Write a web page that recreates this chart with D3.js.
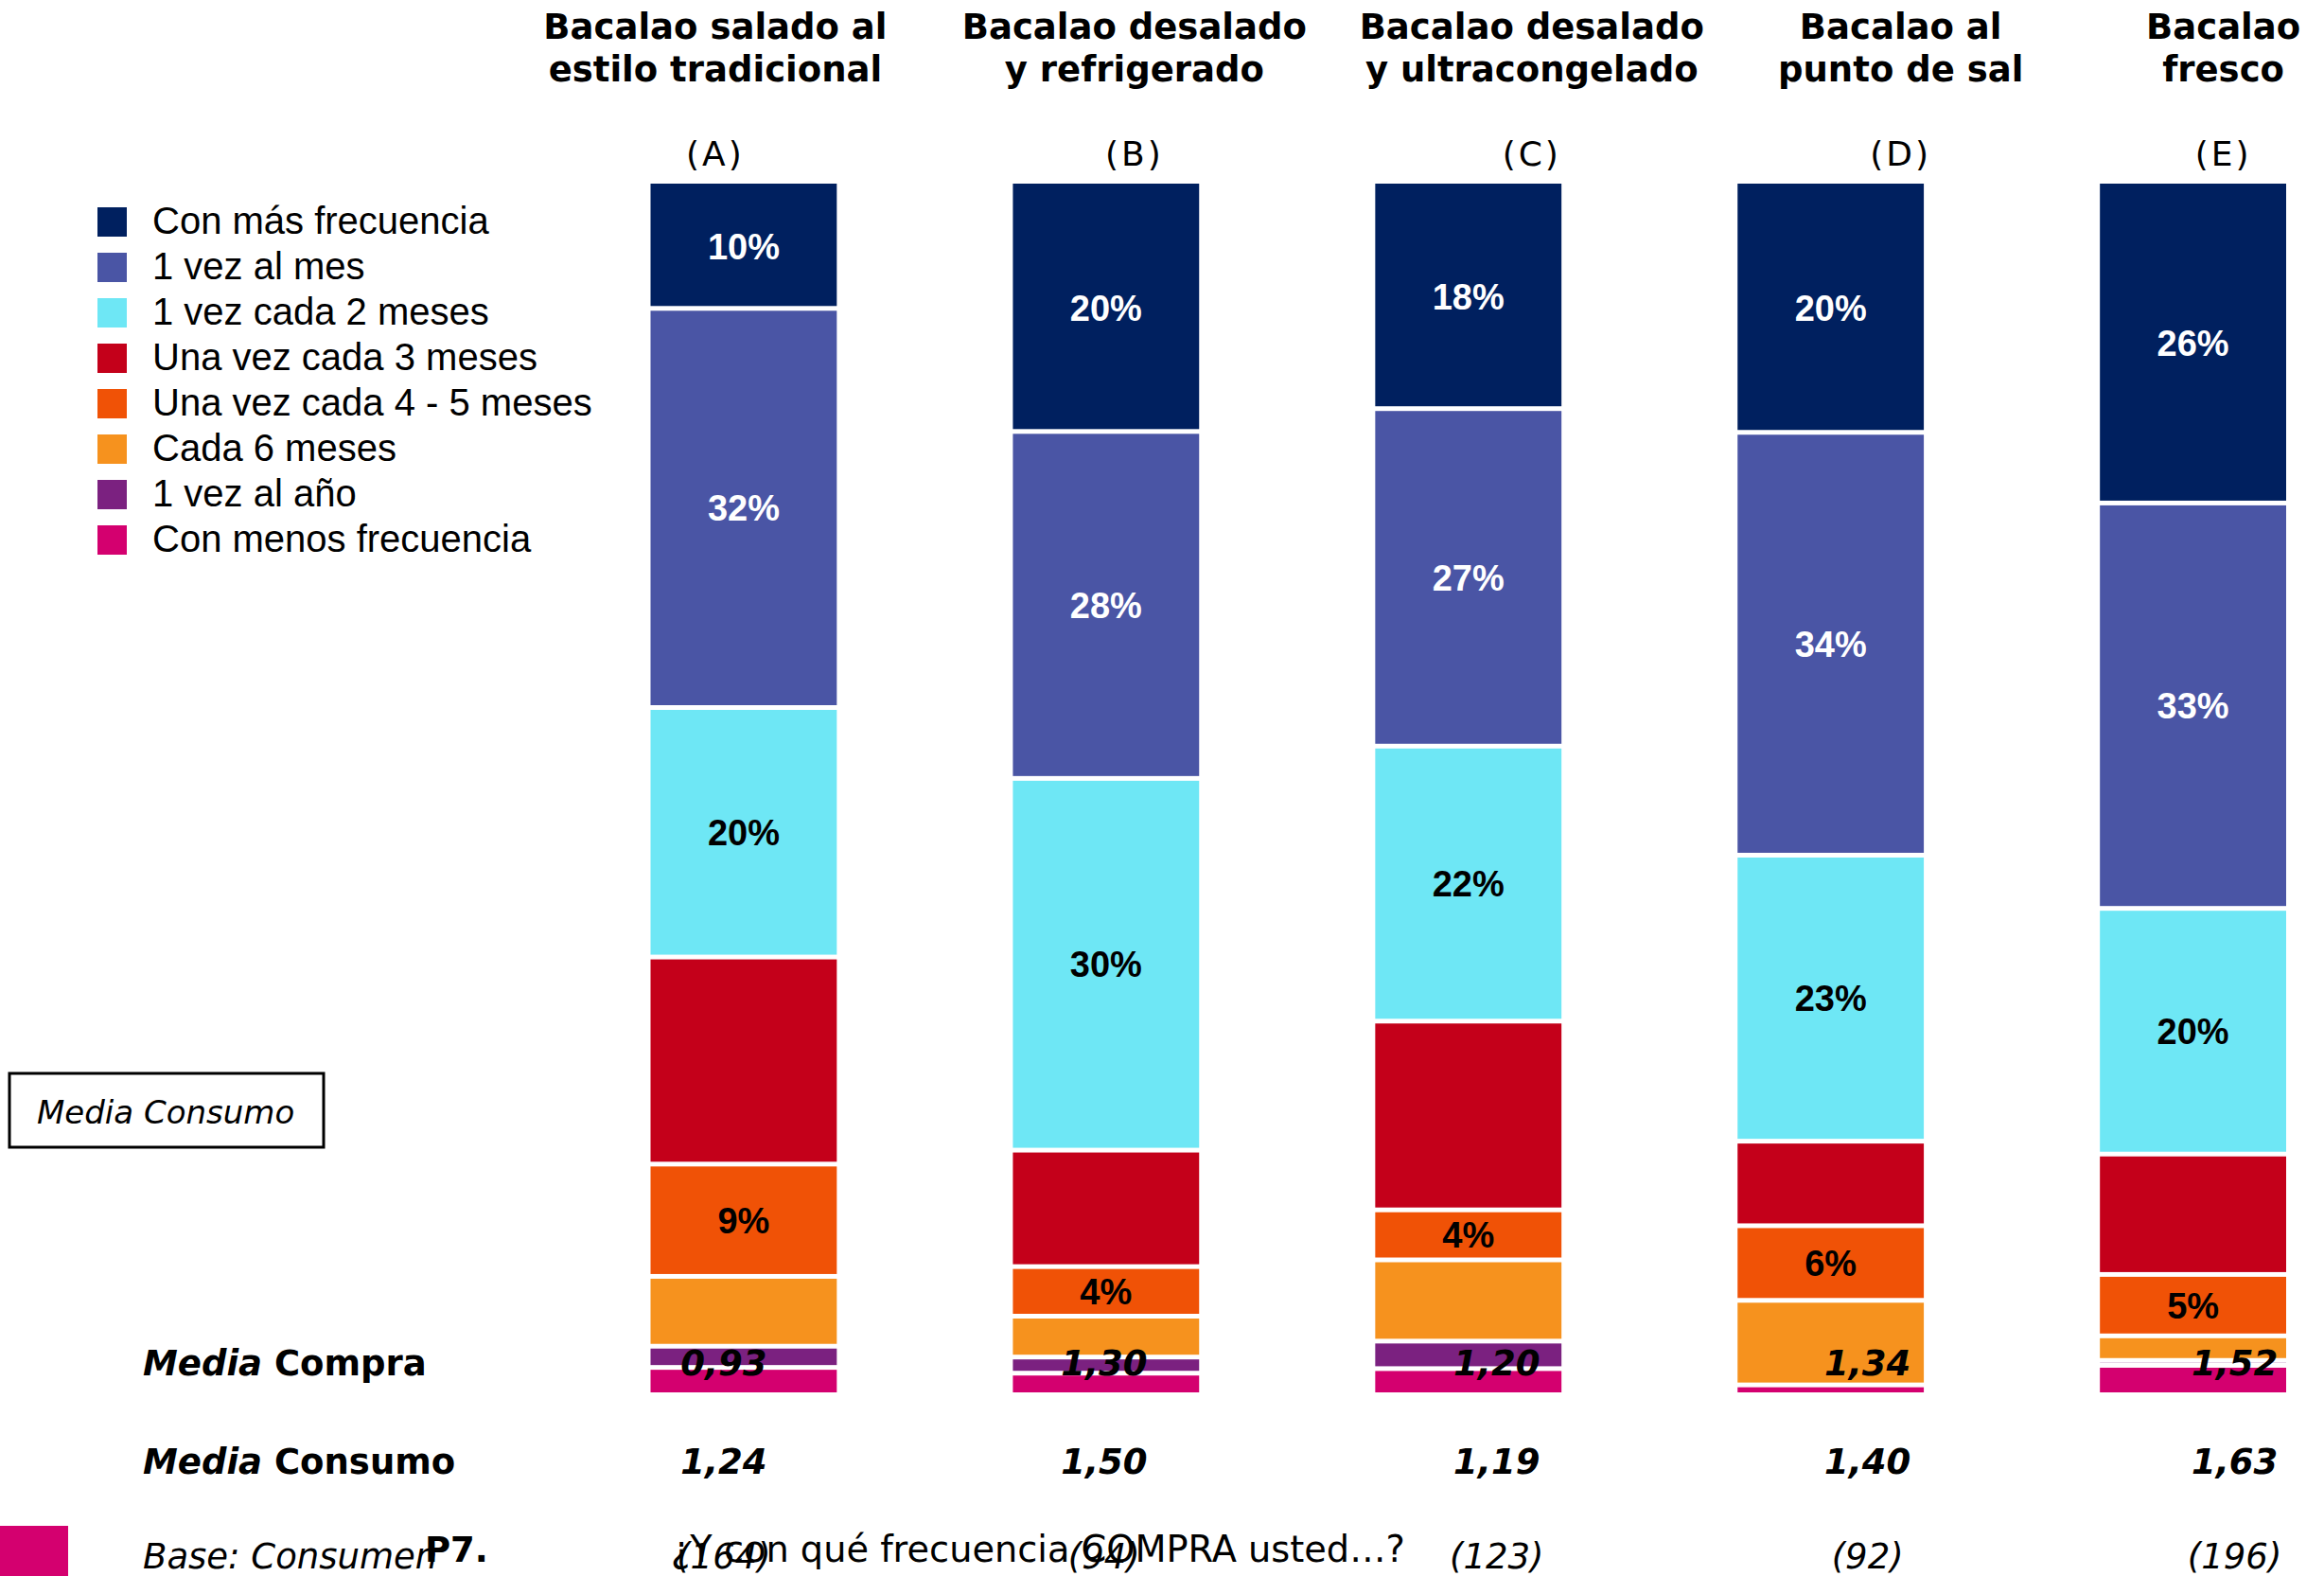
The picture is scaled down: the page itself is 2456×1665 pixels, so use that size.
<!DOCTYPE html>
<html>
<head>
<meta charset="utf-8">
<script src="https://cdn.jsdelivr.net/npm/d3@7"></script>
<style>
  html, body { margin: 0; padding: 0; background: #ffffff; }
  svg { display: block; }
</style>
</head>
<body>
<svg id="chart" width="2456" height="1665"></svg>
<script>
// Products (columns)
const categories = ["A", "B", "C", "D", "E"];
const titleLines = [
  ["Bacalao salado al", "estilo tradicional"],
  ["Bacalao desalado", "y refrigerado"],
  ["Bacalao desalado", "y ultracongelado"],
  ["Bacalao al", "punto de sal"],
  ["Bacalao", "fresco"]
];
const columnLetters = ["(A)", "(B)", "(C)", "(D)", "(E)"];

// Purchase frequency answers, top to bottom of each bar
const frequencies = [
  "Con más frecuencia",
  "1 vez al mes",
  "1 vez cada 2 meses",
  "Una vez cada 3 meses",
  "Una vez cada 4 - 5 meses",
  "Cada 6 meses",
  "1 vez al año",
  "Con menos frecuencia"
];

// Percentages per answer, one value per product (A..E)
const conMasFrecuencia   = [10, 20, 18, 20, 26];
const unaVezAlMes        = [32, 28, 27, 34, 33];
const unaVezCada2Meses   = [20, 30, 22, 23, 20];
const unaVezCada3Meses   = [16.6, 9.4, 15.1, 6.8, 9.8];
const unaVezCada4a5Meses = [9, 4, 4, 6, 5];
const cada6Meses         = [5.6, 3.3, 6.5, 6.8, 2.0];
const unaVezAlAnio       = [1.7, 1.3, 2.2, 0, 0.4];
const conMenosFrecuencia = [2.0, 1.55, 1.9, 0.6, 2.2];

const seriesValues = [
  conMasFrecuencia, unaVezAlMes, unaVezCada2Meses, unaVezCada3Meses,
  unaVezCada4a5Meses, cada6Meses, unaVezAlAnio, conMenosFrecuencia
];
// answers whose percentage is printed on the bar
const labelledSeries = [0, 1, 2, 4];

// Summary rows
const mediaCompra  = ["0,93", "1,30", "1,20", "1,34", "1,52"];
const mediaConsumo = ["1,24", "1,50", "1,19", "1,40", "1,63"];
const baseSizes    = ["(164)", "(94)", "(123)", "(92)", "(196)"];

// ---- styling / layout ----
const colors = ["#00205f", "#4a55a5", "#6ee7f5", "#c4001a", "#f05206", "#f6921e", "#7b2180", "#d4006f"];
const labelColors = ["#ffffff", "#ffffff", "#000000", "#000000", "#000000", "#000000", "#000000", "#000000"];
const titleShift = [-30, 30, 67, 74, 32];      // title block offset from bar centre
const statShift  = [-21, -2, 30, 39, 44];      // summary value offset from bar centre

const SANS = "'DejaVu Sans', Verdana, sans-serif";
const ARIAL = "'Liberation Sans', Arial, Helvetica, sans-serif";

const svg = d3.select("#chart");

const x = d3.scaleBand()
  .domain(categories)
  .range([687.5, 2416])
  .paddingInner(0.486)
  .paddingOuter(0);

const y = d3.scaleLinear().domain([0, 1]).range([194, 1471]);

// table rows for the stack
const table = categories.map((c, i) => {
  const row = { cat: c };
  frequencies.forEach((f, k) => { row[f] = seriesValues[k][i]; });
  return row;
});

const stacked = d3.stack()
  .keys(frequencies)
  .offset(d3.stackOffsetExpand)(table);

const gap = 5;
const segTop = d => (d[0] <= 1e-6 ? y(0) : y(d[0]) + gap / 2);
const segBottom = d => (d[1] >= 1 - 1e-6 ? y(1) : y(d[1]) - gap / 2);

const layers = svg.append("g").attr("class", "bars")
  .selectAll("g")
  .data(stacked)
  .join("g")
  .attr("fill", (s, k) => colors[k]);

layers.selectAll("rect")
  .data(s => s)
  .join("rect")
  .attr("x", d => x(d.data.cat))
  .attr("width", x.bandwidth())
  .attr("y", d => segTop(d))
  .attr("height", d => Math.max(0, segBottom(d) - segTop(d)));

// percentage labels
const labelG = svg.append("g").attr("class", "labels");
stacked.forEach((s, k) => {
  if (!labelledSeries.includes(k)) return;
  labelG.selectAll(null)
    .data(s)
    .join("text")
    .attr("x", d => x(d.data.cat) + x.bandwidth() / 2)
    .attr("y", d => (y(d[0]) + y(d[1])) / 2)
    .attr("dy", "0.36em")
    .attr("text-anchor", "middle")
    .attr("font-family", ARIAL)
    .attr("font-weight", "bold")
    .attr("font-size", 38)
    .attr("fill", labelColors[k])
    .text(d => `${d.data[s.key]}%`);
});

// column titles
const titles = svg.append("g").attr("class", "titles")
  .selectAll("g")
  .data(categories)
  .join("g")
  .attr("transform", (c, i) => `translate(${x(c) + x.bandwidth() / 2 + titleShift[i]},0)`);

titles.append("text")
  .attr("text-anchor", "middle")
  .attr("font-family", SANS)
  .attr("font-weight", "bold")
  .attr("font-size", 37)
  .attr("fill", "#000")
  .selectAll("tspan")
  .data((c, i) => titleLines[i])
  .join("tspan")
  .attr("x", 0)
  .attr("y", (t, j) => 41 + j * 45)
  .text(t => t);

titles.append("text")
  .attr("y", 175)
  .attr("text-anchor", "middle")
  .attr("font-family", SANS)
  .attr("font-size", 36)
  .attr("letter-spacing", 3)
  .attr("fill", "#000")
  .text((c, i) => columnLetters[i]);

// legend
const legend = svg.append("g").attr("class", "legend")
  .selectAll("g")
  .data(frequencies)
  .join("g")
  .attr("transform", (f, k) => `translate(103,${219 + k * 48})`);

legend.append("rect")
  .attr("width", 31)
  .attr("height", 31)
  .attr("fill", (f, k) => colors[k]);

legend.append("text")
  .attr("x", 58)
  .attr("y", 28)
  .attr("font-family", ARIAL)
  .attr("font-size", 40)
  .attr("fill", "#000")
  .text(f => f);

// boxed note
svg.append("rect")
  .attr("x", 10).attr("y", 1134)
  .attr("width", 332).attr("height", 78)
  .attr("fill", "#fff")
  .attr("stroke", "#000")
  .attr("stroke-width", 3);
svg.append("text")
  .attr("x", 39).attr("y", 1187)
  .attr("font-family", SANS)
  .attr("font-style", "italic")
  .attr("font-size", 34)
  .attr("fill", "#000")
  .text("Media Consumo");

// summary row labels
function rowLabel(yPos, italicWord, rest) {
  const t = svg.append("text")
    .attr("x", 151).attr("y", yPos)
    .attr("font-family", SANS)
    .attr("font-weight", "bold")
    .attr("font-size", 37)
    .attr("fill", "#000");
  t.append("tspan").attr("font-style", "italic").text(italicWord);
  t.append("tspan").text(rest);
}
rowLabel(1453, "Media", " Compra");
rowLabel(1557, "Media", " Consumo");

svg.append("text")
  .attr("x", 151).attr("y", 1657)
  .attr("font-family", SANS)
  .attr("font-style", "italic")
  .attr("font-size", 37)
  .attr("fill", "#000")
  .text("Base: Consumen");

// summary values
function statRow(values, yPos, bold) {
  svg.append("g").selectAll("text")
    .data(values)
    .join("text")
    .attr("x", (v, i) => x(categories[i]) + x.bandwidth() / 2 + statShift[i])
    .attr("y", yPos)
    .attr("text-anchor", "middle")
    .attr("font-family", SANS)
    .attr("font-style", "italic")
    .attr("font-weight", bold ? "bold" : "normal")
    .attr("font-size", 37)
    .attr("fill", "#000")
    .text(v => v);
}
statRow(mediaCompra, 1453, true);
statRow(mediaConsumo, 1557, true);
statRow(baseSizes, 1657, false);

// question footnote
svg.append("rect")
  .attr("x", 0).attr("y", 1612)
  .attr("width", 72).attr("height", 53)
  .attr("fill", colors[7]);
svg.append("text")
  .attr("x", 449).attr("y", 1650)
  .attr("font-family", SANS)
  .attr("font-weight", "bold")
  .attr("font-size", 37)
  .attr("fill", "#000")
  .text("P7.");
svg.append("text")
  .attr("x", 709).attr("y", 1650)
  .attr("font-family", SANS)
  .attr("font-size", 38.3)
  .attr("fill", "#000")
  .text("¿Y con qué frecuencia COMPRA usted…?");
</script>
</body>
</html>
